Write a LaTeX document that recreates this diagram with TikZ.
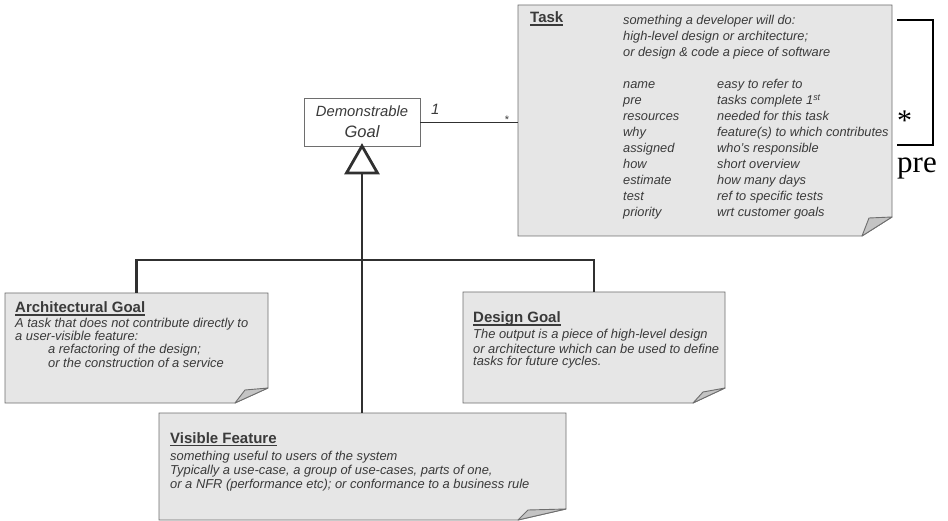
\documentclass[tikz,border=0pt]{standalone}
\usepackage{fontspec}
\setmainfont{Liberation Sans}
\newfontfamily\seriffam{Liberation Serif}
\usetikzlibrary{calc}
\definecolor{notefill}{HTML}{E6E6E6}
\definecolor{foldfill}{HTML}{C4C4C4}
\definecolor{edgegray}{HTML}{6E6E6E}
\definecolor{txtgray}{HTML}{3A3A3A}
\definecolor{linegray}{HTML}{303030}
\newcommand\myul[1]{\setbox0\hbox{#1}\rlap{\rule[-2.6pt]{\wd0}{1.1pt}}\box0}
\newcommand\drawnote[5]{%
  \filldraw[notebody] (#1.north west) -- (#1.north east) -- ([yshift=#2pt]#1.south east)
     -- ([xshift=-#3pt]#1.south east) -- (#1.south west) -- cycle;
  \filldraw[notefold] ([yshift=#2pt]#1.south east) -- ([xshift=#4pt,yshift=#5pt]#1.south east)
     -- ([xshift=-#3pt]#1.south east) -- cycle;
}
\begin{document}
\begin{tikzpicture}[x=1pt,y=-1pt,
  boxarea/.style={inner sep=0pt, outer sep=0pt, anchor=north west},
  notebody/.style={fill=notefill, draw=edgegray, line width=0.9pt},
  notefold/.style={fill=foldfill, draw=edgegray, line width=0.9pt, line join=round},
  txt/.style={font=\fontsize{12.9}{13}\selectfont\itshape, text=txtgray, inner sep=0pt, anchor=base west},
  tasktxt/.style={txt, font=\fontsize{12.8}{13}\selectfont\itshape},
  hdr/.style={font=\fontsize{15}{16}\selectfont\bfseries, text=txtgray, inner sep=0pt, anchor=base west},
  genline/.style={draw=linegray, line width=2.8pt},
  assoc/.style={draw=linegray, line width=0.8pt},
  bracket/.style={draw=black, line width=2pt}]
\useasboundingbox (0,0) rectangle (948,521);

% boxes
\node[boxarea, minimum width=374pt, minimum height=231pt] (task) at (518,5) {};
\node[boxarea, minimum width=263pt, minimum height=110pt] (arch) at (5,293) {};
\node[boxarea, minimum width=262pt, minimum height=111pt] (design) at (463,292) {};
\node[boxarea, minimum width=407pt, minimum height=107pt] (vis) at (159,413) {};
\node[boxarea, draw=edgegray, fill=white, line width=0.9pt, minimum width=116pt, minimum height=48pt] (goal) at (304,98) {};

\drawnote{task}{19}{30}{-23}{18}
\drawnote{arch}{15}{33}{-23}{13}
\drawnote{design}{15}{32}{-22}{11}
\drawnote{vis}{11}{48}{-38}{10}

% Demonstrable Goal
\node[font=\fontsize{14.8}{15}\selectfont\itshape, text=txtgray, inner sep=0pt, anchor=base] (gl1) at (362,117) {Demonstrable};
\node[font=\fontsize{16.5}{17}\selectfont\itshape, text=txtgray, inner sep=0pt, anchor=base] (gl2) at (362,138) {Goal};

% association
\draw[assoc] (goal.east) -- (goal.east -| task.west);
\node[font=\fontsize{15}{16}\selectfont\itshape, text=txtgray, inner sep=0pt, anchor=base west] (m1) at (431,115) {1};
\node[font=\fontsize{11}{11}\selectfont, text=txtgray, inner sep=0pt] (m2) at (507,120) {*};

% generalization
\coordinate (tb) at ($(goal.south)+(0,27)$);
\coordinate (j) at (363,260);
\draw[genline, line join=miter] (goal.south) -- ++(-15.5,27) -- ++(31,0) -- cycle;
\draw[genline] (tb) -- (tb |- vis.north);
\draw[genline] (arch.north) |- (j) -| (design.north);

% self association bracket
\coordinate (b1) at (897,20);
\coordinate (b2) at (933,20);
\coordinate (b3) at (933,145);
\coordinate (b4) at (897,145);
\draw[bracket] (b1) -- (b2) -- (b3) -- (b4);
\node[font=\seriffam\fontsize{30}{31}\selectfont, inner sep=0pt, anchor=base west] (star) at (897,131) {*};
\node[font=\seriffam\fontsize{31}{32}\selectfont, inner sep=0pt, anchor=base west] (pre) at (897,173) {pre};

% Task text
\node[hdr] (taskhdr) at (530,23) {\myul{Task}};
\foreach \t [count=\i] in {something a developer will do:, high-level design or architecture;, or design \& code a piece of software}
  \node[tasktxt] (td\i) at (623,{25+16*(\i-1)}) {\t};
\foreach \a/\b [count=\i] in {name/easy to refer to, pre/tasks complete 1\textsuperscript{st}, resources/needed for this task, why/feature(s) to which contributes, assigned/who’s responsible, how/short overview, estimate/how many days, test/ref to specific tests, priority/wrt customer goals}
{
  \node[tasktxt] (ta\i) at (623,{89+16*(\i-1)}) {\a};
  \node[tasktxt] (tv\i) at (717,{89+16*(\i-1)}) {\b};
}

% Architectural Goal
\node[hdr] (archhdr) at (15,313) {\myul{Architectural Goal}};
\node[txt] (a1) at (15,328) {A task that does not contribute directly to};
\node[txt] (a2) at (15,341) {a user-visible feature:};
\node[txt] (a3) at (48,354) {a refactoring of the design;};
\node[txt] (a4) at (48,367) {or the construction of a service};

% Design Goal
\node[hdr] (deshdr) at (473,323) {\myul{Design Goal}};
\node[txt] (d1) at (473,339) {The output is a piece of high-level design};
\node[txt] (d2) at (473,353) {or architecture which can be used to define};
\node[txt] (d3) at (473,366) {tasks for future cycles.};

% Visible Feature
\node[hdr] (vishdr) at (170,443) {\myul{Visible Feature}};
\node[txt] (v1) at (170,460) {something useful to users of the system};
\node[txt] (v2) at (170,474) {Typically a use-case, a group of use-cases, parts of one,};
\node[txt] (v3) at (170,488) {or a NFR (performance etc); or conformance to a business rule};
\end{tikzpicture}
\end{document}
